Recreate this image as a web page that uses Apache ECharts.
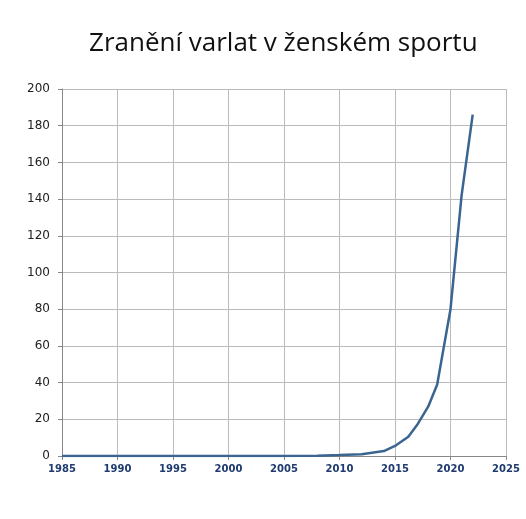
<!DOCTYPE html>
<html><head><meta charset="utf-8">
<script src="https://cdn.jsdelivr.net/npm/echarts@6/dist/echarts.min.js"></script>
<style>html,body{margin:0;background:#fff}#c{width:526px;height:519px}</style>
</head><body><div id="c"></div>
<script>
const years = [1985, 1990, 1995, 2000, 2005, 2008, 2010, 2012, 2014, 2015, 2016.2, 2017, 2018, 2018.8, 2020, 2021, 2022];
const values = [0, 0, 0, 0, 0, 0.2, 0.5, 1, 2.7, 5.5, 10.5, 17, 27, 39, 80, 142, 186];
const title = 'Zranění varlat v ženském sportu';
const chart = echarts.init(document.getElementById('c'));
chart.setOption({
  animation: false,
  title: { text: title, left: 84, top: 26, textStyle: { fontFamily: 'Open Sans', fontWeight: 'normal', fontSize: 26, color: '#111' } },
  grid: { left: 62, right: 20, top: 89, bottom: 63 },
  xAxis: { type: 'value', min: 1985, max: 2025, interval: 5,
    axisLine: { lineStyle: { color: '#888' } }, axisTick: { show: true, length: 4, lineStyle: { color: '#888' } },
    splitLine: { show: true, lineStyle: { color: '#bbb' } },
    axisLabel: { color: '#1f3a6e', fontSize: 10, fontWeight: 'bold', fontFamily: 'DejaVu Sans', formatter: v => String(v), showMaxLabel: true } },
  yAxis: { type: 'value', min: 0, max: 200, interval: 20,
    axisLine: { show: true, lineStyle: { color: '#888' } }, axisTick: { show: true, length: 4, lineStyle: { color: '#888' } },
    splitLine: { lineStyle: { color: '#bbb' } },
    axisLabel: { color: '#222', fontSize: 12, fontFamily: 'DejaVu Sans', margin: 12 } },
  series: [{ type: 'line', data: years.map((y, i) => [y, values[i]]), showSymbol: false, smooth: false,
    lineStyle: { color: '#3a6590', width: 2.5 } }]
});
</script></body></html>
